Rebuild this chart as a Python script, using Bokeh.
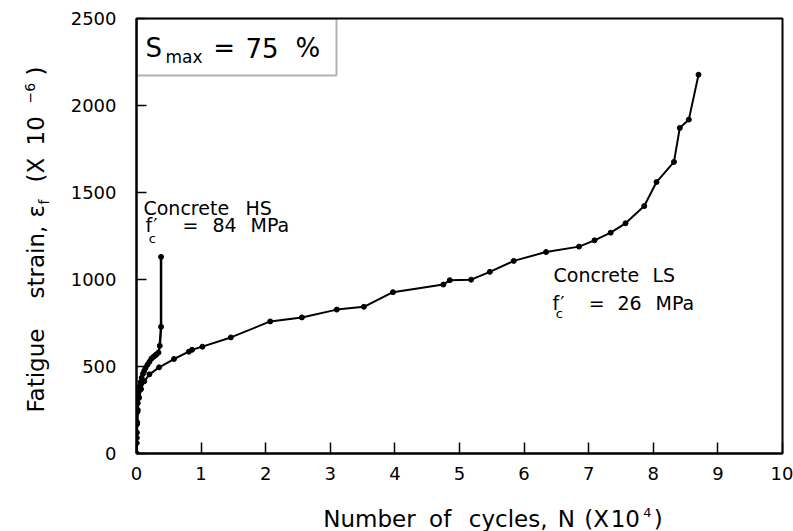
from bokeh.plotting import figure
from bokeh.models import Range1d, FixedTicker, Label, BoxAnnotation
from bokeh.layouts import row, column
from bokeh.embed import file_html
from bokeh.resources import INLINE

# ---- data (N in 10^4 cycles, strain in 10^-6) ----
ls_n = [0, 0.005, 0.01, 0.02, 0.04, 0.07, 0.12, 0.2, 0.35, 0.58, 0.81, 0.86, 1.02, 1.46,
        2.07, 2.56, 3.10, 3.52, 3.97, 4.75, 4.85, 5.18, 5.47, 5.84, 6.34, 6.85, 7.09,
        7.34, 7.57, 7.86, 8.05, 8.32, 8.41, 8.55, 8.70]
ls_e = [0, 90, 170, 250, 320, 370, 415, 455, 495, 543, 585, 596, 614, 667,
        759, 782, 827, 843, 927, 971, 996, 999, 1044, 1107, 1158, 1189, 1225,
        1269, 1323, 1422, 1560, 1676, 1871, 1919, 2177]

hs_n = [0, 0.003, 0.006, 0.01, 0.015, 0.02, 0.03, 0.04, 0.05, 0.065, 0.08, 0.1, 0.12,
        0.14, 0.17, 0.2, 0.23, 0.26, 0.29, 0.31, 0.34, 0.36, 0.38, 0.38]
hs_e = [0, 60, 120, 180, 240, 290, 330, 360, 385, 410, 435, 458, 475,
        492, 510, 527, 545, 555, 563, 570, 580, 619, 728, 1130]

x_ticks = [0, 1, 2, 3, 4, 5, 6, 7, 8, 9, 10]
y_ticks = [0, 500, 1000, 1500, 2000, 2500]

FONT = "DejaVu Sans"

# ---------------- main plot ----------------
p = figure(width=733, height=500, x_range=Range1d(0, 10), y_range=Range1d(0, 2500),
           output_backend="svg", toolbar_location=None,
           min_border_left=76, min_border_right=11, min_border_top=18, min_border_bottom=47)
p.grid.visible = False
p.outline_line_color = "black"
p.outline_line_width = 2
p.background_fill_color = "white"
p.border_fill_color = "white"

for ax, ticks, tin in ((p.xaxis[0], x_ticks, 11), (p.yaxis[0], y_ticks, 10)):
    ax.ticker = FixedTicker(ticks=ticks)
    ax.major_tick_in = tin
    ax.major_tick_out = 0
    ax.minor_tick_in = 0
    ax.minor_tick_out = 0
    ax.axis_line_width = 2
    ax.axis_line_color = "black"
    ax.major_tick_line_width = 1.5
    ax.major_tick_line_color = "black"
    ax.major_label_text_font = FONT
    ax.major_label_text_font_size = "18px"
    ax.major_label_text_color = "black"
p.xaxis.major_label_standoff = 13
p.yaxis.major_label_standoff = 20

# curves
p.line(ls_n, ls_e, line_color="black", line_width=2)
p.scatter(ls_n, ls_e, marker="circle", size=5, color="black")
p.line(hs_n, hs_e, line_color="black", line_width=2.5)
p.scatter(hs_n, hs_e, marker="circle", size=5, color="black")

# S_max box
p.add_layout(BoxAnnotation(left=0, right=3.096, bottom=2172, top=2500,
                           fill_color=None, line_color="black", line_width=2))


def lab(fig, text, x, y, size, angle=0):
    # compensate the label's baseline placement so that (x, y) is the alphabetic baseline
    shift = 0.38 * size
    xo, yo = (-shift, 0) if angle else (0, shift)
    fig.add_layout(Label(x=x, y=y, text=text, text_font=FONT, text_font_size=f"{size}px",
                         text_color="black", text_baseline="alphabetic", text_align="left",
                         angle=angle, angle_units="deg", x_offset=xo, y_offset=yo))


# S_max = 75 %
lab(p, "S", 0.139, 2276, 26)
lab(p, "max", 0.449, 2241, 17)
lab(p, "=", 1.19, 2276, 26)
lab(p, "75", 1.687, 2276, 26)
lab(p, "%", 2.461, 2276, 26)

# Concrete HS
lab(p, "Concrete", 0.108, 1368, 19)
lab(p, "HS", 1.687, 1368, 19)
lab(p, "f", 0.139, 1270, 19)
lab(p, "′", 0.26, 1270, 19)
lab(p, "c", 0.19, 1207, 13)
lab(p, "=", 0.712, 1270, 19)
lab(p, "84", 1.176, 1270, 19)
lab(p, "MPa", 1.765, 1270, 19)

# Concrete LS
lab(p, "Concrete", 6.455, 983, 19)
lab(p, "LS", 7.988, 983, 19)
lab(p, "f", 6.44, 822, 19)
lab(p, "′", 6.56, 822, 19)
lab(p, "c", 6.49, 776, 13)
lab(p, "=", 7.0, 822, 19)
lab(p, "26", 7.446, 822, 19)
lab(p, "MPa", 8.034, 822, 19)


def blank(w, h):
    f = figure(width=w, height=h, x_range=Range1d(0, w), y_range=Range1d(0, h),
               output_backend="svg", toolbar_location=None, min_border=0,
               x_axis_type=None, y_axis_type=None)
    f.grid.visible = False
    f.outline_line_color = None
    f.background_fill_color = "white"
    f.border_fill_color = "white"
    return f


# ---------------- y axis title panel (60 x 531) ----------------
ylab = blank(60, 531)
lab(ylab, "Fatigue", 44, 119, 23, 90)
lab(ylab, "strain,", 44, 233, 23, 90)
lab(ylab, "ε", 44, 314, 23, 90)
lab(ylab, "f", 49, 327, 14, 90)
lab(ylab, "(X", 44, 349, 23, 90)
lab(ylab, "10", 44, 386, 23, 90)
lab(ylab, "−6", 35, 428, 14, 90)
lab(ylab, ")", 44, 456, 23, 90)

# ---------------- x axis title panel (733 x 31) ----------------
xlab = blank(733, 31)
lab(xlab, "Number", 212, 4, 23)
lab(xlab, "of", 332, 4, 23)
lab(xlab, "cycles,", 377, 4, 23)
lab(xlab, "N", 478, 4, 23)
lab(xlab, "(X", 508, 4, 23)
lab(xlab, "10", 538, 4, 23)
lab(xlab, "4", 575, 14, 13)
lab(xlab, ")", 587, 4, 23)

layout = row(ylab, column(p, xlab, spacing=0), spacing=0)

open("out.html", "w").write(file_html(layout, INLINE))
